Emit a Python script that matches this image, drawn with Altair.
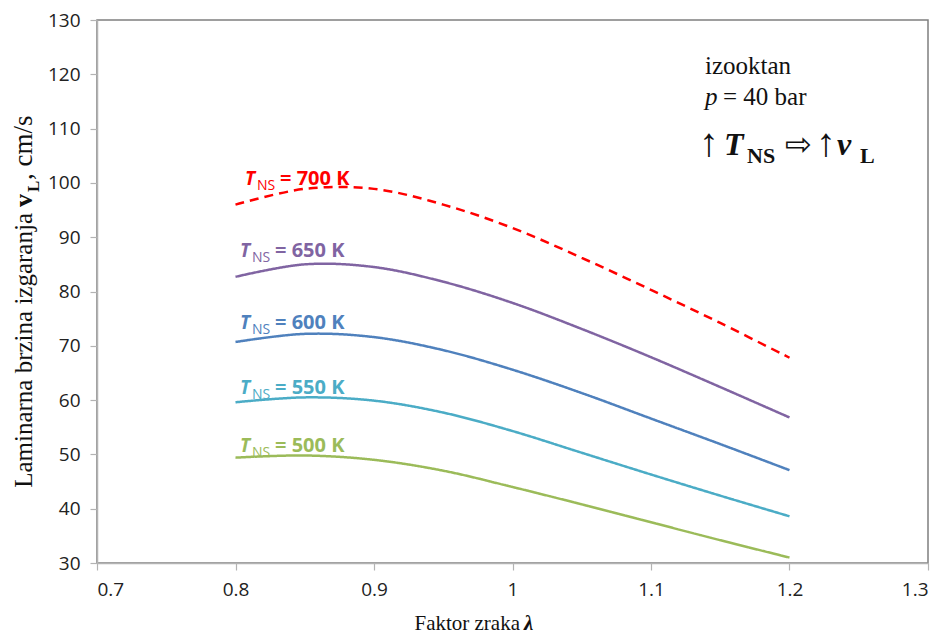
import altair as alt
import pandas as pd

# ---- data ----
lam = [0.80, 0.85, 0.90, 0.95, 1.00, 1.05, 1.10, 1.15, 1.20]
v500 = [49.4, 49.8, 49.0, 47.0, 44.0, 40.8, 37.5, 34.2, 31.0]
v550 = [59.6, 60.5, 59.9, 57.7, 54.3, 50.3, 46.3, 42.4, 38.6]
v600 = [70.7, 72.2, 71.6, 69.2, 65.6, 61.3, 56.6, 51.9, 47.1]
v650 = [82.7, 85.0, 84.5, 81.8, 77.9, 73.1, 67.9, 62.4, 56.8]
v700 = [96.0, 98.9, 98.9, 96.0, 91.7, 86.2, 80.3, 74.2, 67.8]

series = ["500 K", "550 K", "600 K", "650 K", "700 K"]
values = [v500, v550, v600, v650, v700]
colors = ["#9BBB59", "#4BACC6", "#4F81BD", "#8064A2", "#FF0000"]
dashes = [[1, 0], [1, 0], [1, 0], [1, 0], [9, 6]]

x_ticks = [0.7, 0.8, 0.9, 1.0, 1.1, 1.2, 1.3]
y_ticks = [30, 40, 50, 60, 70, 80, 90, 100, 110, 120, 130]

rows = []
for s, vals in zip(series, values):
    for x, v in zip(lam, vals):
        rows.append({"lam": x, "v": v, "s": s})
df = pd.DataFrame(rows)

one = pd.DataFrame({"a": [0]})


def txt(text, px, py, **kw):
    params = dict(align="left", baseline="alphabetic")
    params.update(kw)
    return alt.Chart(one).mark_text(text=text, **params).encode(
        x=alt.value(px), y=alt.value(py)
    )


lines = alt.Chart(df).mark_line(strokeWidth=2.5, interpolate="catmull-rom").encode(
    x=alt.X("lam:Q",
            scale=alt.Scale(domain=[0.7, 1.3], nice=False, zero=False),
            axis=alt.Axis(values=x_ticks, format="~g", title=None)),
    y=alt.Y("v:Q",
            scale=alt.Scale(domain=[30, 130], nice=False, zero=False),
            axis=alt.Axis(values=y_ticks, format="d", title=None)),
    color=alt.Color("s:N", scale=alt.Scale(domain=series, range=colors), legend=None),
    strokeDash=alt.StrokeDash("s:N", scale=alt.Scale(domain=series, range=dashes), legend=None),
)

layers = [lines]

# curve labels
LF = "Open Sans"
label_pos = [  # (series text, T x, baseline y)
    ("700 K", 148, 165, "#FF0000"),
    ("650 K", 143, 237, "#8064A2"),
    ("600 K", 143, 309, "#4F81BD"),
    ("550 K", 143, 374, "#4BACC6"),
    ("500 K", 143, 432, "#9BBB59"),
]
for s, px, py, c in label_pos:
    layers.append(txt("T", px, py, font=LF, fontSize=19, fontWeight="bold",
                      fontStyle="italic", color=c))
    layers.append(txt("NS", px + 12, py + 5, font=LF, fontSize=14, color=c))
    layers.append(txt("= " + s, px + 35, py, font=LF, fontSize=20,
                      fontWeight="bold", color=c))

# top-right annotation
SF = "Liberation Serif"
layers += [
    txt("izooktan", 608, 54, font=SF, fontSize=25, color="#111"),
    txt("p", 608, 85, font=SF, fontSize=25, fontStyle="italic", color="#111"),
    txt("= 40 bar", 626, 85, font=SF, fontSize=25, color="#111"),
    txt("↑", 602, 136, font=SF, fontSize=40, fontWeight="bold", color="#111"),
    txt("T", 627, 135, font=SF, fontSize=32, fontWeight="bold", fontStyle="italic", color="#111"),
    txt("NS", 650, 143, font=SF, fontSize=22, fontWeight="bold", color="#111"),
    txt("⇨", 688, 135, font="DejaVu Sans", fontSize=32, color="#111"),
    txt("↑", 719, 136, font=SF, fontSize=40, fontWeight="bold", color="#111"),
    txt("v", 740, 135, font=SF, fontSize=32, fontWeight="bold", fontStyle="italic", color="#111"),
    txt("L", 763, 143, font=SF, fontSize=22, fontWeight="bold", color="#111"),
]

# axis titles built from pieces (mixed styles)
layers += [
    txt("Faktor zraka", 423, 610, font=SF, fontSize=21, color="#111", align="right"),
    txt("λ", 427, 610, font=SF, fontSize=21, fontWeight="bold", fontStyle="italic", color="#111"),
    txt("Laminarna brzina izgaranja", -65, 193, font=SF, fontSize=25, color="#111",
        align="right", angle=270),
    txt("v", -65, 187, font=SF, fontSize=26, fontWeight="bold", color="#111", angle=270),
    txt("L", -65, 172, font=SF, fontSize=17, fontWeight="bold", color="#111", angle=270, dy=7),
    txt(", cm/s", -65, 160, font=SF, fontSize=27, color="#111", angle=270),
]

chart = alt.layer(*layers).properties(
    width=831,
    height=543,
    autosize=alt.AutoSizeParams(type="none"),
    padding={"left": 89, "top": 12, "right": 8, "bottom": 74},
).configure_view(
    stroke="#7f7f7f", strokeWidth=1.5
).configure_axis(
    grid=False,
    domainColor="#b3b3b3",
    domainWidth=1.5,
    tickColor="#b3b3b3",
    tickSize=7,
    tickWidth=1.2,
    labelFont=LF,
    labelFontSize=19,
    labelColor="#222222",
    labelPadding=10,
)

chart.save("out.html", embed_options={"renderer": "svg", "actions": False})
